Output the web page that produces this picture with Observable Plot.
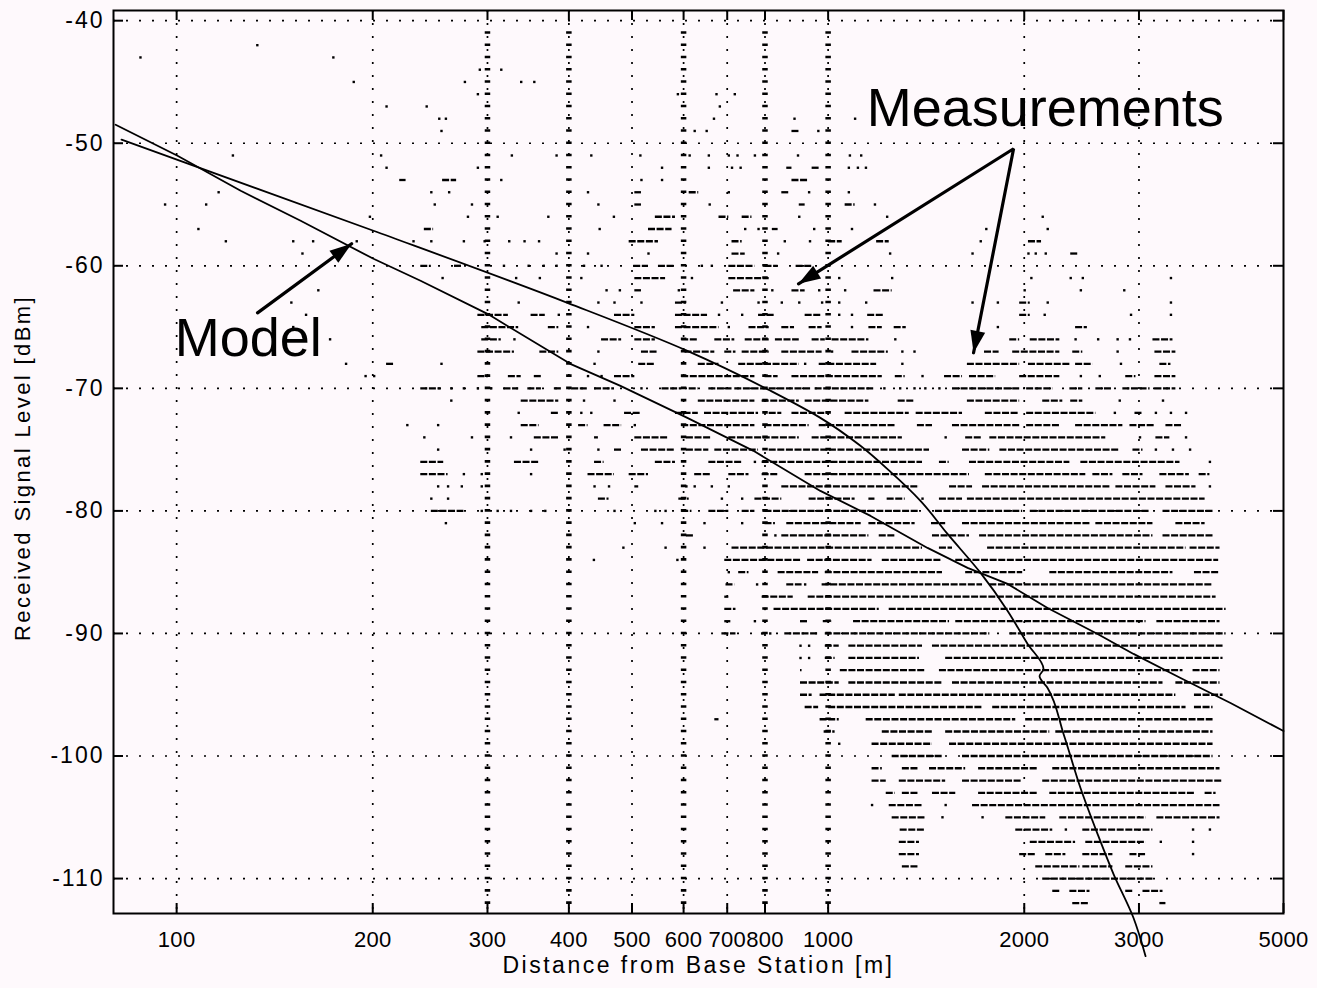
<!DOCTYPE html>
<html>
<head>
<meta charset="utf-8">
<script src="https://cdn.jsdelivr.net/npm/d3@7"></script>
<script src="https://cdn.jsdelivr.net/npm/@observablehq/plot@0.6"></script>
<style>
  html, body { margin: 0; padding: 0; background: #fef9fc; }
  #chart svg { display: block; }
</style>
</head>
<body>
<div id="chart"></div>
<script>
// ---------- data ----------
const xTicks = [100, 200, 300, 400, 500, 600, 700, 800, 1000, 2000, 3000, 5000];
const yTicks = [-40, -50, -60, -70, -80, -90, -100, -110];

// distances (m) where measurements stack in vertical columns
const measurementColumns = [300, 400, 600, 800, 1000];

// smooth model curve (with breakpoint)
const modelSmoothDist  = [82.3, 200.5, 398, 608, 816, 973, 1121, 1247, 1386, 1525, 1714, 1886, 2024, 2141, 2111, 2172, 2298, 2440, 2592, 2742, 2943, 3071];
const modelSmoothLevel = [-49.71, -57.14, -63.02, -66.94, -70.20, -72.41, -74.69, -76.82, -79.18, -81.88, -85.06, -88.16, -90.86, -92.90, -93.47, -94.45, -98.20, -102.61, -106.37, -109.63, -113.22, -116.33];

// "Model" curve
const modelDist  = [80.6, 100.3, 125.4, 155, 200.5, 236.8, 300, 402, 480, 608, 768, 973, 1162, 1421, 1637, 1886, 2172, 2592, 2943, 3475, 4146, 5000];
const modelLevel = [-48.49, -51.02, -53.88, -56.33, -59.43, -61.22, -63.92, -68.0, -69.80, -72.41, -75.10, -78.37, -80.41, -83.02, -84.65, -85.96, -87.92, -90.04, -91.67, -93.63, -95.67, -97.96];

// isolated measurements: [level dBm, distance, distance, ...]
const dotRows = [
  [-42, 133], [-43, 88, 174], [-44, 292, 315], [-45, 187, 277, 338, 354],
  [-46, 290, 588, 674, 719], [-47, 210, 242, 682], [-48, 253, 259, 668, 888, 1100],
  [-49, 255, 624, 651, 966],
  [-51, 122, 206, 327, 383, 433, 515, 613, 656, 704, 726, 772, 899, 1080, 1124],
  [-52, 210, 290, 556, 656, 712, 734, 1076, 1111, 1143],
  [-53, 315, 517, 556],
  [-54, 116, 246, 262, 428, 704, 935, 1076],
  [-55, 96, 111, 249, 284, 444, 658, 1180],
  [-56, 198, 280, 311, 372, 469, 903, 1232, 2135],
  [-57, 108, 446, 746, 782, 952, 1088, 1749, 2173],
  [-58, 119, 151, 162, 189, 231, 246, 276, 297, 324, 342, 360, 858, 938, 1715],
  [-59, 156, 383, 428, 530, 838, 1245, 1666, 2030, 2083, 2158],
  [-60, 318, 347, 366, 383, 422, 449, 640, 663],
  [-61, 256, 332, 361, 418, 618, 1040, 1254, 2051, 2357, 2460, 3359],
  [-62, 165, 457, 479, 590, 821, 969, 1062, 2003, 2443, 2848],
  [-63, 150, 335, 444, 470, 517, 687, 782, 849, 903, 979, 1040, 1144, 1666, 1822, 2173, 3359],
  [-64, 158, 386, 680, 738, 1040, 1088, 2150, 2917, 3359],
  [-65, 151, 428, 704, 1088, 1822],
  [-66, 172, 330, 1268, 2398, 2597, 2782, 2906],
  [-67, 444, 1014, 1300, 1357, 2782],
  [-68, 182, 255, 438, 922, 1300, 2815],
  [-69, 195, 201, 428, 449, 1396, 2443, 2612],
  [-70, 264, 276, 290, 304, 517, 1220, 1290, 1357, 1410, 1482],
  [-71, 264, 422, 470, 2803, 3266],
  [-72, 335, 418, 433, 2755, 3185, 3359, 3543],
  [-73, 226, 252, 505],
  [-74, 240, 284, 326, 1515, 3011, 3543],
  [-75, 252, 350, 394, 444, 3185, 3383, 3594],
  [-76, 772, 3855],
  [-77, 276, 294, 350],
  [-78, 252, 261, 274, 294, 438, 461, 606, 624, 663, 704, 3855],
  [-79, 246, 261, 687, 738, 1396],
  [-80, 294, 311, 326, 350, 368, 470, 543, 563],
  [-81, 259, 505, 556, 646, 738],
  [-82, 830], [-83, 485, 563, 646], [-84, 437, 587], [-85, 704], [-86, 778, 922],
  [-88, 800], [-89, 772, 800], [-90, 792, 815], [-91, 907, 935], [-92, 907, 935],
  [-99, 1040], [-104, 1168, 1515], [-105, 1498, 1726], [-106, 2317, 3632, 3855],
  [-107, 3241, 3632], [-108, 3632]
];

// runs of measurements: [level dBm, from, to, from, to, ...]
const segRows = [
  [-49, 880, 905],
  [-52, 864, 880, 945, 972],
  [-53, 220, 225, 256, 269, 880, 935],
  [-54, 505, 517, 612, 633, 849, 870],
  [-55, 505, 517, 903, 922, 1062, 1100],
  [-56, 543, 583, 680, 704, 738, 764],
  [-57, 240, 248, 530, 576, 821, 838],
  [-58, 495, 549, 712, 738, 1002, 1051, 1187, 1241, 2030, 2126],
  [-59, 712, 746, 2357, 2417],
  [-60, 237, 246, 267, 274, 503, 530, 549, 583, 704, 772, 800, 838, 893, 945],
  [-61, 505, 563, 704, 812, 935, 955],
  [-62, 505, 517, 716, 772, 880, 922, 1176, 1254],
  [-63, 583, 606, 1968, 2043],
  [-64, 290, 323, 350, 368, 470, 505, 583, 653, 782, 830, 922, 979, 1150, 1220, 1968, 2043],
  [-65, 294, 335, 372, 386, 505, 543, 583, 680, 756, 812, 849, 888, 935, 979, 1155, 1211, 1263, 1318, 2398, 2500],
  [-66, 294, 315, 449, 482, 505, 543, 596, 632, 670, 719, 746, 812, 830, 903, 945, 990, 1014, 1155, 1900, 1968, 2043, 2268, 3152, 3383],
  [-67, 290, 330, 361, 386, 517, 549, 603, 670, 694, 722, 738, 812, 849, 979, 1088, 1237, 1738, 1830, 1920, 2268, 2374, 2460, 3174, 3418],
  [-68, 210, 216, 512, 543, 632, 680, 729, 903, 969, 1187, 1636, 1968, 2030, 2350, 2398, 2549, 3230, 3359],
  [-69, 290, 301, 323, 338, 354, 363, 470, 505, 596, 772, 800, 838, 880, 1211, 1268, 1313, 1509, 1608, 1648, 1808, 1968, 2268, 2863, 2968, 3174, 3418],
  [-70, 237, 255, 318, 335, 346, 363, 380, 390, 404, 428, 438, 470, 556, 596, 612, 632, 656, 712, 719, 945, 955, 1180, 1552, 1968, 2017, 2212, 2350, 2460, 2576, 2736, 2834, 3120, 3174, 3418],
  [-71, 338, 386, 632, 772, 792, 903, 922, 1155, 1281, 1360, 1636, 1968, 2135, 2292, 2357, 2460],
  [-72, 376, 386, 487, 517, 583, 632, 646, 782, 812, 849, 880, 1005, 1062, 1332, 1365, 1608, 1743, 1968, 2017, 2576, 2958, 3043],
  [-73, 338, 360, 414, 428, 453, 482, 596, 772, 800, 935, 969, 1268, 1371, 1446, 1552, 1968, 2017, 2268, 2398, 2834, 2906, 3174, 3300, 3505],
  [-74, 354, 386, 438, 444, 505, 570, 606, 663, 704, 903, 945, 1300, 1626, 1726, 1771, 2668, 3185, 3346],
  [-75, 470, 482, 517, 583, 606, 656, 670, 782, 812, 1431, 1608, 1771, 1835, 2805, 2937, 3043],
  [-76, 237, 257, 330, 360, 438, 453, 543, 583, 656, 738, 792, 1396, 1482, 1534, 1648, 2350, 2443, 3468],
  [-77, 237, 261, 428, 470, 495, 530, 624, 663, 704, 756, 792, 838, 922, 1648, 1743, 2486, 2549, 2736, 2834, 3043, 3230, 3585, 3711, 3855],
  [-78, 505, 512, 849, 1381, 1536, 1666, 1726, 2707, 2765, 3185, 3300, 3670],
  [-79, 444, 461, 590, 612, 772, 849, 935, 1100, 1155, 1180, 1232, 1313, 1482, 1608, 1636, 3790],
  [-80, 246, 276, 596, 618, 656, 704, 738, 772, 800, 1381, 1461, 1989, 2043, 3120, 3266, 3898],
  [-81, 800, 830, 864, 1124, 1155, 1360, 1441, 1515, 1608, 2523, 2576, 3152, 3418, 3790],
  [-82, 606, 624, 849, 1155, 1198, 1268, 1446, 1648, 1708, 3152, 3266, 3898],
  [-83, 712, 1396, 1482, 1552, 1757, 3543, 3594, 3995],
  [-84, 694, 912, 930, 1168, 1211, 1498, 1570, 3976],
  [-85, 729, 756, 838, 967, 990, 1498, 1626, 1989, 2189, 3383, 3650, 3995],
  [-86, 697, 719, 864, 912, 979, 1726, 1771, 3898],
  [-87, 694, 704, 792, 884, 932, 3940],
  [-88, 694, 722, 826, 1198, 1241, 4082],
  [-89, 694, 709, 907, 932, 983, 1014, 1094, 1536, 1570, 3076, 3196, 3995],
  [-90, 687, 722, 858, 967, 990, 1771, 1900, 4082],
  [-91, 990, 1040, 1076, 1396, 1446, 4038],
  [-92, 990, 1025, 1076, 1381, 1515, 4038],
  [-93, 907, 912, 1044, 1410, 1482, 3505, 3632, 3995],
  [-94, 907, 1040, 1076, 1498, 1552, 3266, 3418, 3995],
  [-95, 907, 945, 972, 1268, 1286, 3418, 3650, 4038],
  [-96, 922, 967, 1002, 1726, 1789, 3543, 3650, 3898],
  [-97, 670, 680, 972, 1040, 1144, 1941, 2010, 3898],
  [-98, 986, 1025, 1211, 1446, 1515, 2189, 2236, 3898],
  [-99, 1168, 1446, 1536, 3898],
  [-100, 1254, 1498, 1608, 3898],
  [-101, 1168, 1211, 1300, 1381, 1431, 1626, 1702, 2098, 2212, 3995],
  [-102, 1168, 1228, 1286, 1515, 1608, 1989, 2135, 4038],
  [-103, 1228, 1268, 1300, 1381, 1446, 1570, 1702, 2098, 2189, 3650, 3790, 3940],
  [-104, 1241, 1396, 1666, 3995],
  [-105, 1254, 1410, 1874, 2158, 2268, 3076, 3196, 3995],
  [-106, 1290, 1410, 1941, 2212, 2460, 3152],
  [-107, 1286, 1381, 2043, 2398, 2486, 3076],
  [-108, 1286, 1381, 1968, 2083, 2158, 2317, 2460, 2736, 2906, 3076],
  [-109, 1300, 1381, 2083, 2435, 2460, 2736, 2863, 3152],
  [-110, 2135, 3152],
  [-111, 2212, 2268, 2350, 2523, 2863, 2937, 3043, 3266],
  [-112, 2374, 2523, 3230, 3300]
];

// annotation anchors (distance, level)
const modelLabel = {text: "Model", x: 99.3, y: -65.96};
const measLabel = {text: "Measurements", x: 1146, y: -47.18};
const modelArrow = [{x: 133.1, y: -63.84}, {x: 185.6, y: -58.20}];
const measArrow = [{x: 900.7, y: -61.47}, {x: 1926, y: -50.45}, {x: 1672, y: -67.10}];

const xTitle = "Distance from Base Station [m]";
const yTitle = "Received Signal Level [dBm]";

// ---------- layout ----------
const W = 1317, H = 988, mL = 113, mR = 34, mT = 10, mB = 75;
const plotW = W - mL - mR, plotH = H - mT - mB;
const xDomain = [80, 5000], yDomain = [-112.85, -39.17];
const k = plotH / (yDomain[1] - yDomain[0]); // px per dB

const segs = segRows.flatMap(([lv, ...xs]) => {
  const out = [];
  for (let i = 0; i < xs.length; i += 2) out.push({level: lv, from: xs[i], to: xs[i + 1]});
  return out;
});
const dots = dotRows.flatMap(([lv, ...xs]) => xs.map(d => ({level: lv, dist: d})));
const modelSmooth = modelSmoothDist.map((d, i) => ({dist: d, level: modelSmoothLevel[i]}));
const model = modelDist.map((d, i) => ({dist: d, level: modelLevel[i]}));

// arrow head directions computed from the same scales Plot uses
const sx = d3.scaleLog().domain(xDomain).range([mL, W - mR]);
const sy = d3.scaleLinear().domain(yDomain).range([H - mB, mT]);
function headAngle(a, b) {
  const dx = sx(b.x) - sx(a.x), dy = sy(b.y) - sy(a.y);
  return Math.atan2(dx, -dy) * 180 / Math.PI;
}
const heads = [
  {x: modelArrow[1].x, y: modelArrow[1].y, angle: headAngle(modelArrow[0], modelArrow[1])},
  {x: measArrow[0].x, y: measArrow[0].y, angle: headAngle(measArrow[1], measArrow[0])},
  {x: measArrow[2].x, y: measArrow[2].y, angle: headAngle(measArrow[1], measArrow[2])}
];
const arrowHead = {
  draw(context) {
    context.moveTo(0, 0);
    context.lineTo(-7.5, 22);
    context.lineTo(7.5, 22);
    context.closePath();
  }
};

const FONT = "'Liberation Sans', Arial, Helvetica, sans-serif";

const chart = Plot.plot({
  width: W, height: H,
  marginLeft: mL, marginRight: mR, marginTop: mT, marginBottom: mB,
  style: {fontFamily: FONT, fontSize: "23px", color: "#000", background: "#fef9fc"},
  x: {type: "log", domain: xDomain},
  y: {domain: yDomain},
  marks: [
    // dotted grid
    Plot.ruleX(xTicks.filter(d => d < 5000), {stroke: "#000", strokeWidth: 1.7, strokeDasharray: "2,11"}),
    Plot.ruleY(yTicks, {stroke: "#000", strokeWidth: 1.7, strokeDasharray: "2,11"}),
    // measurement columns (one short dash per dB level)
    Plot.ruleX(measurementColumns, {y1: -41 + 1.3 / k, y2: -112.6, stroke: "#000", strokeWidth: 5.5, strokeDasharray: `2.6,${k - 2.6}`}),
    // measurement runs and isolated points
    Plot.ruleY(segs, {y: "level", x1: "from", x2: "to", stroke: "#000", strokeWidth: 2.3, strokeDasharray: "7,1.6"}),
    Plot.dot(dots, {x: "dist", y: "level", symbol: "square", r: 1.35, fill: "#000"}),
    // model curves
    Plot.line(modelSmooth, {x: "dist", y: "level", curve: "monotone-y", stroke: "#000", strokeWidth: 1.8}),
    Plot.line(model, {x: "dist", y: "level", stroke: "#000", strokeWidth: 1.8}),
    // frame and inward ticks
    Plot.frame({stroke: "#000", strokeWidth: 2}),
    Plot.tickX(xTicks, {insetTop: plotH - 10, stroke: "#000", strokeWidth: 2}),
    Plot.tickX(xTicks, {insetBottom: plotH - 10, stroke: "#000", strokeWidth: 2}),
    Plot.tickY(yTicks, {insetRight: plotW - 10, stroke: "#000", strokeWidth: 2}),
    Plot.tickY(yTicks, {insetLeft: plotW - 10, stroke: "#000", strokeWidth: 2}),
    // tick labels
    Plot.axisX(xTicks, {anchor: "bottom", tickSize: 0, tickPadding: 18, tickFormat: d => String(d), label: null, fontSize: 22}),
    Plot.axisY(yTicks, {anchor: "left", tickSize: 0, tickPadding: 9, tickFormat: d => String(d), label: null, fontSize: 23}),
    // axis titles
    Plot.text([xTitle], {frameAnchor: "bottom", textAnchor: "middle", dy: 59, fontSize: 23}),
    Plot.text([yTitle], {frameAnchor: "left", textAnchor: "middle", dx: -91, dy: 6, rotate: -90, fontSize: 22}),
    // annotations
    Plot.text([modelLabel], {x: "x", y: "y", text: "text", textAnchor: "start", fontSize: 54, fill: "#000"}),
    Plot.text([measLabel], {x: "x", y: "y", text: "text", textAnchor: "start", fontSize: 54, fill: "#000"}),
    Plot.line(modelArrow, {x: "x", y: "y", stroke: "#000", strokeWidth: 3.2}),
    Plot.line(measArrow, {x: "x", y: "y", stroke: "#000", strokeWidth: 3.2, strokeLinejoin: "miter"}),
    Plot.dot(heads, {x: "x", y: "y", rotate: "angle", symbol: arrowHead, fill: "#000", stroke: "none"})
  ]
});

chart.querySelectorAll('g[aria-label="y-axis tick label"]').forEach(g => g.style.letterSpacing = "2px");
chart.querySelectorAll('g[aria-label="x-axis tick label"]').forEach(g => g.style.letterSpacing = "0.3px");
chart.querySelectorAll("text").forEach(t => {
  if (t.textContent === xTitle) t.style.letterSpacing = "2.5px";
  if (t.textContent === yTitle) t.style.letterSpacing = "2.4px";
});
document.getElementById("chart").appendChild(chart);
</script>
</body>
</html>
